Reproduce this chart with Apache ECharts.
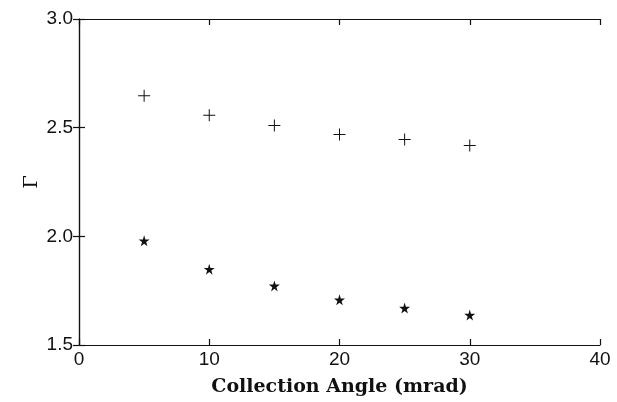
<!DOCTYPE html>
<html>
<head>
<meta charset="utf-8">
<script src="https://cdn.jsdelivr.net/npm/echarts@6/dist/echarts.min.js"></script>
<style>
  html, body { margin: 0; padding: 0; background: #fff; }
  #chart { width: 617px; height: 402px; }
</style>
</head>
<body>
<div id="chart"></div>
<script>
// collection angle (mrad)
const angles = [5, 10, 15, 20, 25, 30];
// upper series (+)
const plusValues = [2.647, 2.557, 2.51, 2.468, 2.445, 2.418];
// lower series (stars)
const starValues = [1.98, 1.849, 1.772, 1.708, 1.67, 1.638];

const plusPath = 'path://M11,0H13V11H24V13H13V24H11V13H0V11H11Z';
const starPath = 'path://M50,0L61,35H98L68,57L79,91L50,70L21,91L32,57L2,35H39Z';

const chart = echarts.init(document.getElementById('chart'));

const axisLine = { show: true, lineStyle: { color: '#111', width: 1.2 } };
const tickIn = { show: true, inside: true, length: 6, lineStyle: { color: '#111', width: 1.2 } };
const tickFont = { color: '#111', fontSize: 19, fontFamily: 'Liberation Sans, DejaVu Sans, sans-serif' };

chart.setOption({
  animation: false,
  grid: { left: 79, right: 17, top: 19, bottom: 57 },
  xAxis: [
    {
      type: 'value', min: 0, max: 40, interval: 10,
      name: 'Collection Angle (mrad)', nameLocation: 'middle', nameGap: 33,
      nameTextStyle: { color: '#111', fontSize: 19, fontWeight: 'bold', fontFamily: 'DejaVu Serif, Liberation Serif, serif' },
      axisLine: axisLine, axisTick: tickIn,
      axisLabel: Object.assign({ margin: 5 }, tickFont),
      splitLine: { show: false }
    },
    {
      type: 'value', min: 0, max: 40, interval: 10, position: 'top',
      axisLine: axisLine, axisTick: tickIn, axisLabel: { show: false }, splitLine: { show: false }
    }
  ],
  yAxis: [
    {
      type: 'value', min: 1.5, max: 3.0, interval: 0.5,
      name: 'Γ', nameLocation: 'middle', nameGap: 37, nameRotate: 90, nameMoveOverlap: false,
      nameTextStyle: { color: '#111', fontSize: 19, fontFamily: 'DejaVu Serif, Liberation Serif, serif' },
      axisLine: axisLine, axisTick: tickIn,
      axisLabel: Object.assign({ margin: 6, formatter: v => v.toFixed(1) }, tickFont),
      splitLine: { show: false }
    },
    {
      type: 'value', min: 1.5, max: 3.0, interval: 0.5, position: 'right',
      axisLine: axisLine, axisTick: tickIn, axisLabel: { show: false }, splitLine: { show: false }
    }
  ],
  series: [
    {
      type: 'scatter', symbol: plusPath, symbolSize: 12,
      itemStyle: { color: '#111', opacity: 1 },
      data: angles.map((a, i) => [a, plusValues[i]])
    },
    {
      type: 'scatter', symbol: starPath, symbolSize: 11,
      itemStyle: { color: '#111', opacity: 1 },
      data: angles.map((a, i) => [a, starValues[i]])
    }
  ]
});
</script>
</body>
</html>
